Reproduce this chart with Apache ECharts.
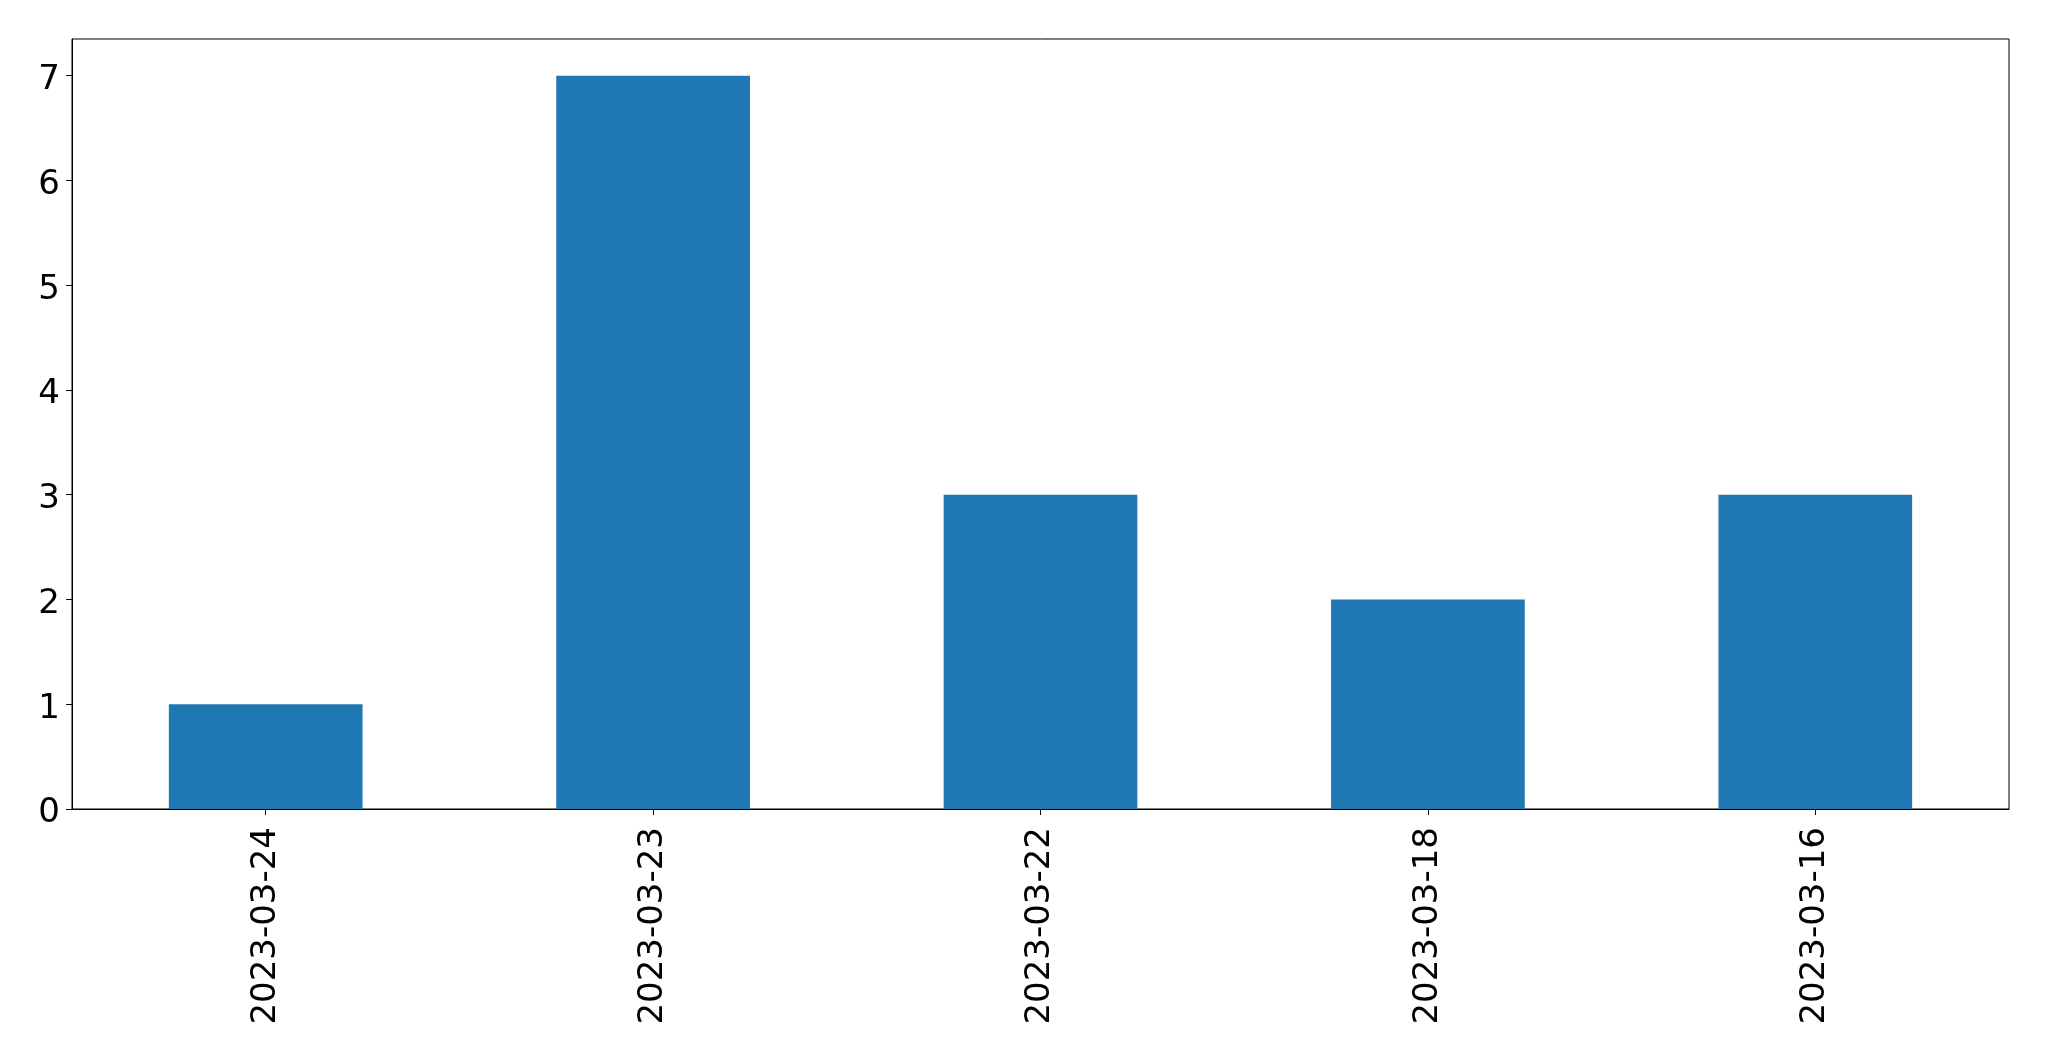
<!DOCTYPE html>
<html>
<head>
<meta charset="utf-8">
<script src="https://cdn.jsdelivr.net/npm/echarts@6/dist/echarts.min.js"></script>
<style>
html,body{margin:0;padding:0;background:#fff;}
#chart{width:2049px;height:1061px;}
</style>
</head>
<body>
<div id="chart"></div>
<script>
const categories = ['2023-03-24', '2023-03-23', '2023-03-22', '2023-03-18', '2023-03-16'];
const values = [1, 7, 3, 2, 3];
const yTicks = [0, 1, 2, 3, 4, 5, 6, 7];

const chart = echarts.init(document.getElementById('chart'), null, {renderer: 'canvas'});
const font = 'DejaVu Sans';
chart.setOption({
  animation: false,
  backgroundColor: '#ffffff',
  grid: {
    left: 72, right: 40, top: 39, bottom: 252,
    show: true, borderColor: '#000000', borderWidth: 1, backgroundColor: 'transparent'
  },
  xAxis: {
    type: 'category',
    data: categories,
    boundaryGap: true,
    axisLine: {show: true, lineStyle: {color: '#000', width: 1}},
    axisTick: {show: true, alignWithLabel: true, length: 6, lineStyle: {color: '#000', width: 1}},
    axisLabel: {rotate: 90, fontFamily: font, fontSize: 34, color: '#000', margin: 18, interval: 0},
    splitLine: {show: false}
  },
  yAxis: {
    type: 'value',
    min: 0, max: 7.35, interval: 1,
    axisLine: {show: true, lineStyle: {color: '#000', width: 1}},
    axisTick: {show: true, length: 6, lineStyle: {color: '#000', width: 1}, customValues: yTicks},
    axisLabel: {
      margin: 12, customValues: yTicks,
      formatter: '{a|{value}}',
      rich: {a: {fontFamily: font, fontSize: 34, color: '#000', padding: [9, 0, 0, 0]}}
    },
    splitLine: {show: false}
  },
  series: [{
    type: 'bar',
    data: values,
    barWidth: '50%',
    itemStyle: {color: '#1f77b4'}
  }]
});
</script>
</body>
</html>
